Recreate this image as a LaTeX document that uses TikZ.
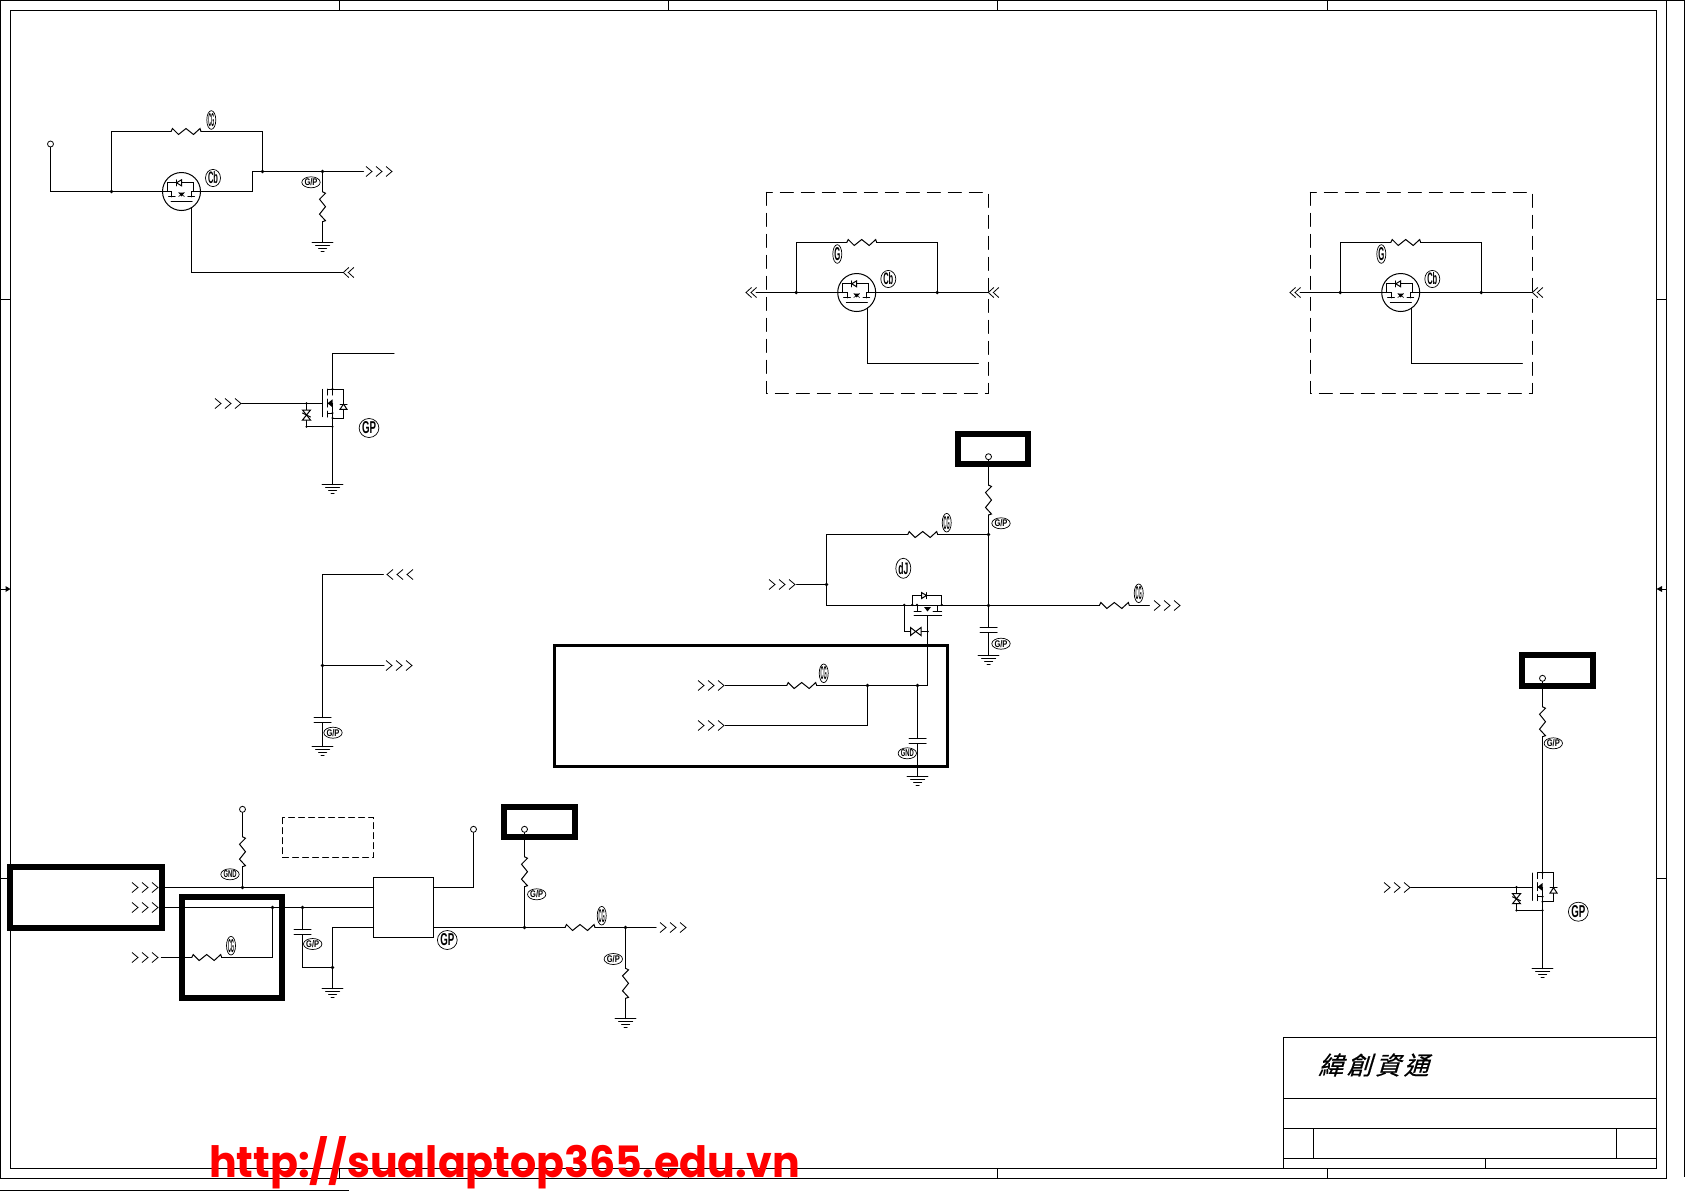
\documentclass[tikz,border=0pt]{standalone}
\usepackage{fontspec}
\usepackage{graphicx}
\usetikzlibrary{shapes.geometric}
\setmainfont{Liberation Sans}
\newfontfamily\cjkslant[FakeSlant=0.3,FakeBold=0.5]{Noto Sans CJK TC}
\newfontfamily\webfont{Poppins}
\newcommand{\tagN}[1]{\resizebox{6pt}{13pt}{\bfseries #1}}
\newcommand{\tagW}[1]{\resizebox{13pt}{7pt}{\bfseries #1}}
\newcommand{\tagC}[1]{\resizebox{10pt}{12pt}{\bfseries #1}}
\newcommand{\tagG}[1]{\resizebox{14pt}{12pt}{\bfseries #1}}
\tikzset{
  wire/.style={line width=1pt,line cap=round,line join=miter},
  frameline/.style={line width=1pt},
  thickbox/.style={line width=6pt},
  tagbase/.style={ellipse,draw,line width=0.7pt,inner sep=0pt,outer sep=0pt,text=black},
  tagn/.style={tagbase,minimum width=9pt,minimum height=18pt},
  tagw/.style={tagbase,minimum width=17pt,minimum height=11pt},
  tagc/.style={tagbase,minimum width=15pt,minimum height=17pt},
  tagg/.style={tagbase,minimum width=19pt,minimum height=19pt},
  pics/resh/.style={code={\draw[wire] (0,0)--(1.5,-3)--(7.5,3)--(15,-3)--(22.5,3)--(29,-3)--(30,0);}},
  pics/resv/.style={code={\draw[wire] (0,0)--(3,1.5)--(-3,7.5)--(3,15)--(-3,22.5)--(3,29)--(0,30);}},
  pics/gnd/.style={code={\draw[wire] (-10.3,0)--(10.3,0) (-7,3.3)--(7,3.3) (-4,6)--(4,6) (-1.5,9)--(1.5,9);}},
  pics/cap/.style={code={\draw[wire] (-8.5,0)--(8.5,0) (-8.5,5)--(8.5,5);}},
  pics/chevr/.style={code={\draw[line width=0.8pt] (0,-5)--(6,0)--(0,5) (10,-5)--(16,0)--(10,5) (20,-5)--(26,0)--(20,5);}},
  pics/chevl/.style={code={\draw[line width=0.8pt] (6,-5)--(0,0)--(6,5) (16,-5)--(10,0)--(16,5) (26,-5)--(20,0)--(26,5);}},
  pics/dchevl/.style={code={\draw[line width=0.8pt] (5.5,-5)--(0,0)--(5.5,5) (10.5,-5)--(5,0)--(10.5,5);}},
  pics/opendot/.style={code={\draw[line width=0.8pt,fill=white] (0,0) circle[radius=3pt];}},
  pics/dot/.style={code={\fill (0,0) circle[radius=1.9pt];}},
  pics/qcirc/.style={code={
    \draw[wire] (0,0) circle[radius=19pt];
    \draw[wire] (-19,0)--(-9.7,0)--(-9.7,5.3) (9.7,5.3)--(9.7,0)--(19,0);
    \draw[wire] (-13,5.3)--(-6.3,5.3) (6.3,5.3)--(13,5.3) (-10.3,10.3)--(10.7,10.3);
    \draw[wire] (-14,0)--(-14,-8.7)--(12,-8.7)--(12,0);
    \draw[wire,fill=white] (-5,-8.7)--(0,-11.7)--(0,-5.7)--cycle;
    \draw[wire] (-5,-11.7)--(-5,-5.7);
    \fill (-3,1)--(3,1)--(0,5)--cycle;
    \draw[line width=0.6pt] (-3,5)--(3,1) (-3,1)--(3,5);
  }},
  pics/qnch/.style={code={
    \draw[wire] (-10,0.3)--(-10,27.7);
    \draw[wire] (-5,0)--(-5,6) (-5,10)--(-5,18) (-5,22)--(-5,28);
    \draw[wire] (-5,0)--(0,0) (-5,24)--(0,24) (-5,14.3)--(0,14.3) (0,0)--(0,6);
    \fill (-5,14.3)--(0,10.3)--(0,18.3)--cycle;
    \draw[wire] (0,0)--(11,0)--(11,29)--(0,29);
    \draw[wire,fill=white] (11,15)--(14.5,20.3)--(7.5,20.3)--cycle;
    \draw[wire] (7.5,15)--(14.5,15);
    \draw[wire] (-26,14.3)--(-26,37.7)--(0,37.7);
    \draw[wire,fill=white] (-26,26)--(-30,21)--(-22,21)--cycle;
    \draw[wire,fill=white] (-26,26)--(-30,31)--(-22,31)--cycle;
    \draw[wire] (-30,24)--(-22,28);
    \foreach \p in {(0,0),(0,24),(0,29),(0,37.7),(-26,14.3),(-26,37.7)} {\fill \p circle[radius=1.2pt];}
  }},
  pics/protbox/.style={code={
    \draw[wire,dash pattern=on 13pt off 8pt] (766.3,192.3) rectangle (988.3,393.3);
    \coordinate (pl) at (756,292.5);
    \coordinate (pj) at (796.3,292.5);
    \coordinate (pk) at (937.3,292.5);
    \coordinate (pr) at (988.3,292.5);
    \coordinate (pq) at (856.7,292.5);
    \coordinate (pra) at (846.7,242.5);
    \coordinate (prb) at (876.7,242.5);
    \coordinate (pg) at (867.3,302.8);
    \coordinate (pge) at (978.3,363.5);
    \draw[wire] (pl)--(pr);
    \draw[wire] (pj)|-(pra) (prb)-|(pk);
    \draw[wire] (pg)|-(pge);
    \fill[white] (pq) circle[radius=18.5pt];
    \pic at (pq) {qcirc};
    \pic at (pra) {resh};
    \pic at (pj) {dot};
    \pic at (pk) {dot};
    \pic at (746,292.5) {dchevl};
    \pic at (988.3,292.5) {dchevl};
  }},
}
\begin{document}
\begin{tikzpicture}[x=1pt,y=-1pt]
\useasboundingbox (0,0) rectangle (1685,1191);
\fill[white] (0,0) rectangle (1685,1191);

% frame
\draw[frameline] (10.5,10.5) rectangle (1656.5,1168.5);
\draw[frameline] (0.5,0.5) rectangle (1666.5,1178.5);
\draw[frameline] (1666.5,0.5)--(1684.5,0.5)--(1684.5,1177);
\draw[line width=1.4pt] (0,1190.4)--(349,1190.4);
\foreach \x in {339.5,668.5,997.5,1327.5} {
  \draw[frameline] (\x,0.5)--(\x,10.5) (\x,1168.5)--(\x,1178.5);
}
\foreach \y in {299.5,878.5} {
  \draw[frameline] (0.5,\y)--(10.5,\y) (1656.5,\y)--(1666.5,\y);
}
\draw[frameline] (0.5,589)--(6,589) (1666.5,589)--(1660,589);
\fill (10.5,589)--(5.5,586)--(5.5,592)--cycle;
\fill (1656.5,589)--(1662,586)--(1662,592)--cycle;

% title block
\draw[frameline] (1283.5,1168.5)--(1283.5,1037.5)--(1656.5,1037.5);
\draw[frameline] (1283.5,1098.5)--(1656.5,1098.5) (1283.5,1128.5)--(1656.5,1128.5) (1283.5,1158.5)--(1656.5,1158.5);
\draw[frameline] (1313.5,1128.5)--(1313.5,1158.5) (1616.5,1128.5)--(1616.5,1158.5) (1485.5,1158.5)--(1485.5,1168.5);
\node[anchor=west,inner sep=0pt] (company) at (1318,1065) {\fontsize{25}{25}\selectfont\cjkslant 緯\kern3.5pt 創\kern3.5pt 資\kern3.5pt 通};

% ---- top left: Q with bypass
\coordinate (a0) at (50.5,144);
\coordinate (a1) at (111.5,191.5);
\coordinate (a2) at (181.5,191.5);
\coordinate (a3) at (252.5,191.5);
\coordinate (a4) at (262.5,171.5);
\coordinate (a5) at (322.5,171.5);
\coordinate (a6) at (363.5,171.5);
\coordinate (ara) at (171,131.5);
\coordinate (arb) at (201,131.5);
\coordinate (agate) at (191.5,201.7);
\coordinate (agend) at (343.3,272.5);
\coordinate (apa) at (322.5,191.7);
\coordinate (apb) at (322.5,221.7);
\coordinate (agnd) at (322.5,242.5);
\draw[wire] (a0)|-(a1)--(a2);
\draw[wire] (a2)--(a3)|-(a4)--(a6);
\draw[wire] (a1)|-(ara) (arb)-|(a4);
\draw[wire] (agate)|-(agend);
\draw[wire] (a5)--(apa) (apb)--(agnd);
\fill[white] (a2) circle[radius=18.5pt];
\pic at (a2) {qcirc};
\pic at (ara) {resh};
\pic at (apa) {resv};
\pic at (agnd) {gnd};
\pic at (a0) {opendot};
\pic at (a1) {dot};
\pic at (a4) {dot};
\pic at (a5) {dot};
\pic at (366,171.5) {chevr};
\pic at (343.3,272.5) {dchevl};
\node[tagn] (ta1) at (211.3,120) {\tagN{CG}};
\node[tagc] (ta2) at (213,178) {\tagC{Cb}};
\node[tagw] (ta3) at (311,182.3) {\tagW{G/P}};

% ---- Q2 gate driver
\coordinate (b0) at (394,353.5);
\coordinate (b1) at (332.5,353.5);
\coordinate (b2) at (332.5,389);
\coordinate (bgi) at (241.7,403.5);
\coordinate (bg) at (322.5,403.5);
\coordinate (bs) at (332.5,403.5);
\coordinate (bgnd) at (332.5,484.5);
\draw[wire] (b0)--(b1)--(b2);
\draw[wire] (bgi)--(bg);
\draw[wire] (bs)--(bgnd);
\pic at (b2) {qnch};
\pic at (bgnd) {gnd};
\pic at (215,403.5) {chevr};
\node[tagg] (tb1) at (369,428) {\tagG{GP}};

% ---- RC with chevrons
\coordinate (c0) at (383.3,574.5);
\coordinate (c1) at (322.5,574.5);
\coordinate (c2) at (322.5,665.5);
\coordinate (c3) at (384,665.5);
\coordinate (ccap) at (322.5,717.5);
\coordinate (cgnd) at (322.5,746.5);
\draw[wire] (c0)--(c1)--(c2)--(ccap);
\draw[wire] (c2)--(c3);
\draw[wire] (322.5,722.5)--(cgnd);
\pic at (ccap) {cap};
\pic at (cgnd) {gnd};
\pic at (c2) {dot};
\pic at (387,574.5) {chevl};
\pic at (386,665.5) {chevr};
\node[tagw] (tc1) at (333,732.7) {\tagW{G/P}};

% ---- dashed protection blocks
\begin{scope}
\pic {protbox};
\node[tagn] (td1) at (837.3,254) {\tagN{G}};
\node[tagc] (td2) at (888.3,279) {\tagC{Cb}};
\end{scope}
\begin{scope}[xshift=544pt]
\pic {protbox};
\node[tagn] (te1) at (837.3,254) {\tagN{G}};
\node[tagc] (te2) at (888.3,279) {\tagC{Cb}};
\end{scope}

% ---- centre network
\draw[thickbox] (958,434) rectangle (1027.7,463.7);
\coordinate (f0) at (988.5,456.7);
\coordinate (fra) at (988.5,485);
\coordinate (frb) at (988.5,515);
\coordinate (f1) at (988.5,534.5);
\coordinate (f2) at (988.5,605.5);
\coordinate (fcap) at (988.5,627.5);
\coordinate (fgnd) at (988.5,655.5);
\coordinate (f3) at (826.5,534.5);
\coordinate (f4) at (826.5,584.5);
\coordinate (f5) at (826.5,605.5);
\coordinate (f6) at (796.7,584.5);
\coordinate (gra) at (907.7,534.5);
\coordinate (grb) at (937.7,534.5);
\coordinate (hra) at (1099.3,605.5);
\coordinate (hrb) at (1129.3,605.5);
\coordinate (h1) at (1149.3,605.5);
\draw[wire] (f0)--(fra) (frb)--(f1)--(f2)--(fcap) (988.5,632.5)--(fgnd);
\draw[wire] (f1)--(grb) (gra)--(f3)--(f5)--(f2)--(hra) (hrb)--(h1);
\draw[wire] (f6)--(f4);
\pic at (f0) {opendot};
\pic at (fra) {resv};
\pic at (gra) {resh};
\pic at (hra) {resh};
\pic at (fcap) {cap};
\pic at (fgnd) {gnd};
\pic at (f1) {dot};
\pic at (f2) {dot};
\pic at (f4) {dot};
\pic at (769,584.5) {chevr};
\pic at (1154,605.5) {chevr};
\node[tagw] (tf1) at (1001,523.3) {\tagW{G/P}};
\node[tagw] (tf2) at (1001,643.7) {\tagW{G/P}};
\node[tagn] (tf3) at (946.7,522.7) {\tagN{CG}};
\node[tagn] (tf4) at (1138.7,593.3) {\tagN{CG}};
\node[tagc,minimum height=20pt] (tf5) at (903.3,568.3) {\tagC{dJ}};
% Q3 (no circle)
\begin{scope}[shift={(927,605.5)}]
\draw[wire] (-14.7,0)--(-14.7,-10)--(14.7,-10)--(14.7,0);
\draw[wire,fill=white] (-0.5,-10)--(-5.5,-13)--(-5.5,-7)--cycle;
\draw[wire] (-0.5,-13)--(-0.5,-7);
\draw[wire] (-10,0)--(-10,5.7) (10,0)--(10,5.7) (-13,5.7)--(-6,5.7) (6,5.7)--(14.7,5.7) (-13,10)--(14.7,10);
\fill (-3,1.5)--(4,1.5)--(0.5,6)--cycle;
\draw[wire] (-22.7,-0.7)--(-22.7,26)--(0.7,26);
\draw[wire,fill=white] (-11.3,26)--(-16.5,22)--(-16.5,30)--cycle;
\draw[wire,fill=white] (-11.3,26)--(-6,22)--(-6,30)--cycle;
\foreach \p in {(-22.7,-0.7),(-14.7,-0.7),(-10,-0.7),(14.7,-0.7),(0.7,26)} {\fill \p circle[radius=1.2pt];}
\end{scope}

% ---- control box
\draw[line width=3pt] (554.8,645.8) rectangle (947,766);
\coordinate (i0) at (725.3,685.5);
\coordinate (ira) at (786.7,685.5);
\coordinate (irb) at (816.7,685.5);
\coordinate (i1) at (867.5,685.5);
\coordinate (i2) at (917.5,685.5);
\coordinate (i3) at (927.5,685.5);
\coordinate (i4) at (927.5,615.5);
\coordinate (i5) at (725.3,725.5);
\coordinate (icap) at (917.5,738.5);
\coordinate (ignd) at (917.5,776.5);
\draw[wire] (i0)--(ira) (irb)--(i3)--(i4);
\draw[wire] (i5)-|(i1);
\draw[wire] (i2)--(icap) (917.5,743.5)--(ignd);
\pic at (ira) {resh};
\pic at (icap) {cap};
\pic at (ignd) {gnd};
\pic at (i1) {dot};
\pic at (i2) {dot};
\pic at (698,685.5) {chevr};
\pic at (698,725.5) {chevr};
\node[tagn] (ti1) at (823.7,673.3) {\tagN{CG}};
\node[tagw] (ti2) at (907.3,753.3) {\tagW{GND}};

% ---- bottom left
\draw[thickbox] (10.3,867) rectangle (162,927.7);
\draw[thickbox] (182,897) rectangle (282,998);
\draw[wire,dash pattern=on 6pt off 4pt] (282.5,817.5) rectangle (373.5,857.5);
\node[draw,line width=1pt,minimum width=60pt,minimum height=60pt,inner sep=0pt,outer sep=0pt] (ic) at (403.5,907.5) {};
\coordinate (j0) at (242.5,809.3);
\coordinate (jra) at (242.5,836.7);
\coordinate (jrb) at (242.5,866.7);
\coordinate (j1) at (242.5,887.5);
\coordinate (j2) at (165,887.5);
\coordinate (j3) at (373.5,887.5);
\coordinate (k1) at (165,907.5);
\coordinate (k2) at (272.5,907.5);
\coordinate (k3) at (302.5,907.5);
\coordinate (k4) at (373.5,907.5);
\coordinate (lra) at (191.7,957.5);
\coordinate (lrb) at (221.7,957.5);
\coordinate (l0) at (161.3,957.5);
\coordinate (mcap) at (302.5,929.5);
\coordinate (m1) at (332.5,967.5);
\coordinate (m2) at (332.5,927.5);
\coordinate (m3) at (373.5,927.5);
\coordinate (mgnd) at (332.5,988.5);
\draw[wire] (j0)--(jra) (jrb)--(j1);
\draw[wire] (j2)--(j3) (k1)--(k4);
\draw[wire] (l0)--(lra) (lrb)-|(k2);
\draw[wire] (k3)--(mcap) (302.5,934.5)|-(m1);
\draw[wire] (m3)--(m2)--(mgnd);
\pic at (j0) {opendot};
\pic at (jra) {resv};
\pic at (lra) {resh};
\pic at (mcap) {cap};
\pic at (mgnd) {gnd};
\pic at (j1) {dot};
\pic at (k2) {dot};
\pic at (k3) {dot};
\pic at (m1) {dot};
\pic at (132,887.5) {chevr};
\pic at (132,907.5) {chevr};
\pic at (132,957.5) {chevr};
\node[tagw] (tj1) at (230,874.3) {\tagW{GND}};
\node[tagn] (tj2) at (231,945.7) {\tagN{CG}};
\node[tagw] (tj3) at (312.7,944) {\tagW{G/P}};
\node[tagg] (tj4) at (447.3,940) {\tagG{GP}};

% outputs of IC
\draw[thickbox] (504,807) rectangle (574.7,837);
\coordinate (n0) at (473.5,829.3);
\coordinate (n1) at (473.5,887.5);
\coordinate (n2) at (433.5,887.5);
\coordinate (o0) at (433.5,927.5);
\coordinate (o1) at (524.5,927.5);
\coordinate (ora) at (565,927.5);
\coordinate (orb) at (595,927.5);
\coordinate (o2) at (625.5,927.5);
\coordinate (o3) at (656,927.5);
\coordinate (p0) at (524.5,829.3);
\coordinate (pra) at (524.5,856.7);
\coordinate (prb) at (524.5,886.7);
\coordinate (qra) at (625.5,968.3);
\coordinate (qrb) at (625.5,998.3);
\coordinate (qgnd) at (625.5,1018.5);
\draw[wire] (n2)-|(n0);
\draw[wire] (o0)--(ora) (orb)--(o3);
\draw[wire] (p0)--(pra) (prb)--(o1);
\draw[wire] (o2)--(qra) (qrb)--(qgnd);
\pic at (n0) {opendot};
\pic at (p0) {opendot};
\pic at (pra) {resv};
\pic at (ora) {resh};
\pic at (qra) {resv};
\pic at (qgnd) {gnd};
\pic at (o1) {dot};
\pic at (o2) {dot};
\pic at (660,927.5) {chevr};
\node[tagw] (to1) at (536.7,894.3) {\tagW{G/P}};
\node[tagn] (to2) at (601.7,915.7) {\tagN{CG}};
\node[tagw] (to3) at (613.3,959) {\tagW{G/P}};

% ---- right driver
\draw[thickbox] (1522,655) rectangle (1593,686);
\coordinate (r0) at (1542.5,678.3);
\coordinate (rra) at (1542.5,706.7);
\coordinate (rrb) at (1542.5,736.7);
\coordinate (r1) at (1542.5,872.7);
\coordinate (rg0) at (1410.7,887.5);
\coordinate (rg1) at (1532.5,887.5);
\coordinate (rs) at (1542.5,887.5);
\coordinate (rgnd) at (1542.5,968.5);
\draw[wire] (r0)--(rra) (rrb)--(r1);
\draw[wire] (rg0)--(rg1);
\draw[wire] (rs)--(rgnd);
\pic at (r0) {opendot};
\pic at (rra) {resv};
\pic at (r1) {qnch};
\pic at (rgnd) {gnd};
\pic at (1384,887.5) {chevr};
\node[tagw] (tr1) at (1553.3,743.3) {\tagW{G/P}};
\node[tagg] (tr2) at (1578.3,911.7) {\tagG{GP}};

% watermark
\node[anchor=base west,inner sep=0pt,text=red] (web) at (209,1177.7) {\resizebox{591pt}{41pt}{\webfont\bfseries http://sualaptop365.edu.vn}};
\end{tikzpicture}
\end{document}
